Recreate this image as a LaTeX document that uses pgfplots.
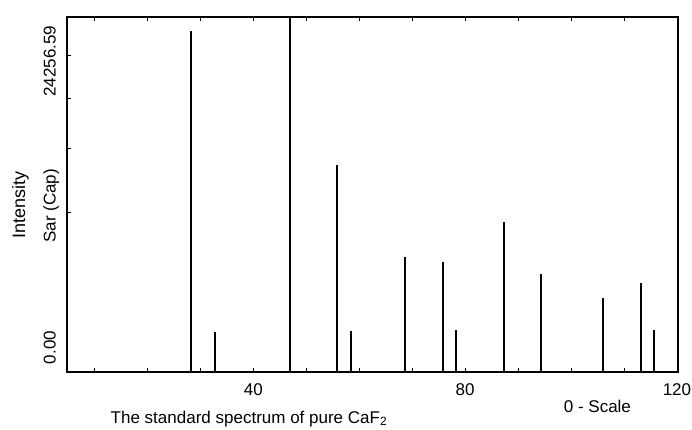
\documentclass[border=0pt]{standalone}
\usepackage{pgfplots}
\pgfplotsset{compat=1.18}
\usepackage{fontspec}
\setmainfont{Liberation Sans}
\begin{document}
\fontsize{17}{20}\selectfont
\begin{tikzpicture}
\useasboundingbox (0,0) rectangle (692pt,430pt);
\begin{axis}[
  scale only axis, width=611pt, height=355pt,
  at={(67pt,58pt)}, anchor=south west,
  xmin=4.8, xmax=120.2, ymin=0, ymax=24256.59,
  axis line style={line width=1.1pt},
  xtick={40,80,120},
  minor xtick={10,20,30,50,60,70,90,100,110},
  ytick={10933,15306,18723,21660},
  yticklabels={{},{},{},{}},
  ytick pos=left,
  scaled y ticks=false,
  tick align=inside,
  major tick length=4pt, minor tick length=4pt,
  every tick/.style={black, line width=0.8pt},
  x tick label style={font=\fontsize{17}{20}\selectfont, inner sep=0pt, anchor=north, yshift=-11pt},
  /pgf/number format/assume math mode=true,
  clip=false,
]
\addplot[ycomb, line width=2pt, black, mark=none] coordinates {
  (28.3,23300) (32.8,2754) (47.0,24256.59) (55.8,14145) (58.5,2800)
  (68.7,7838) (75.9,7496) (78.2,2870) (87.4,10250) (94.3,6696)
  (106.0,5036) (113.3,6102) (115.6,2870)
};
\node[rotate=90, anchor=base, font=\fontsize{18}{20}\selectfont] at (axis description cs:-0.0687,0.470) {Intensity};
\node[rotate=90, anchor=base] at (axis description cs:-0.0188,0.468) {Sar (Cap)};
\node[rotate=90, anchor=base east] at (axis description cs:-0.0188,0.9915) {24256.59};
\node[rotate=90, anchor=base west] at (axis description cs:-0.0188,0.0056) {0.00};
\node[anchor=base west] at (axis description cs:0.062,-0.1437) {The standard spectrum of pure CaF\textsubscript{2}};
\node[anchor=base west] at (axis description cs:0.8036,-0.1127) {0 - Scale};
\end{axis}
\end{tikzpicture}
\end{document}
